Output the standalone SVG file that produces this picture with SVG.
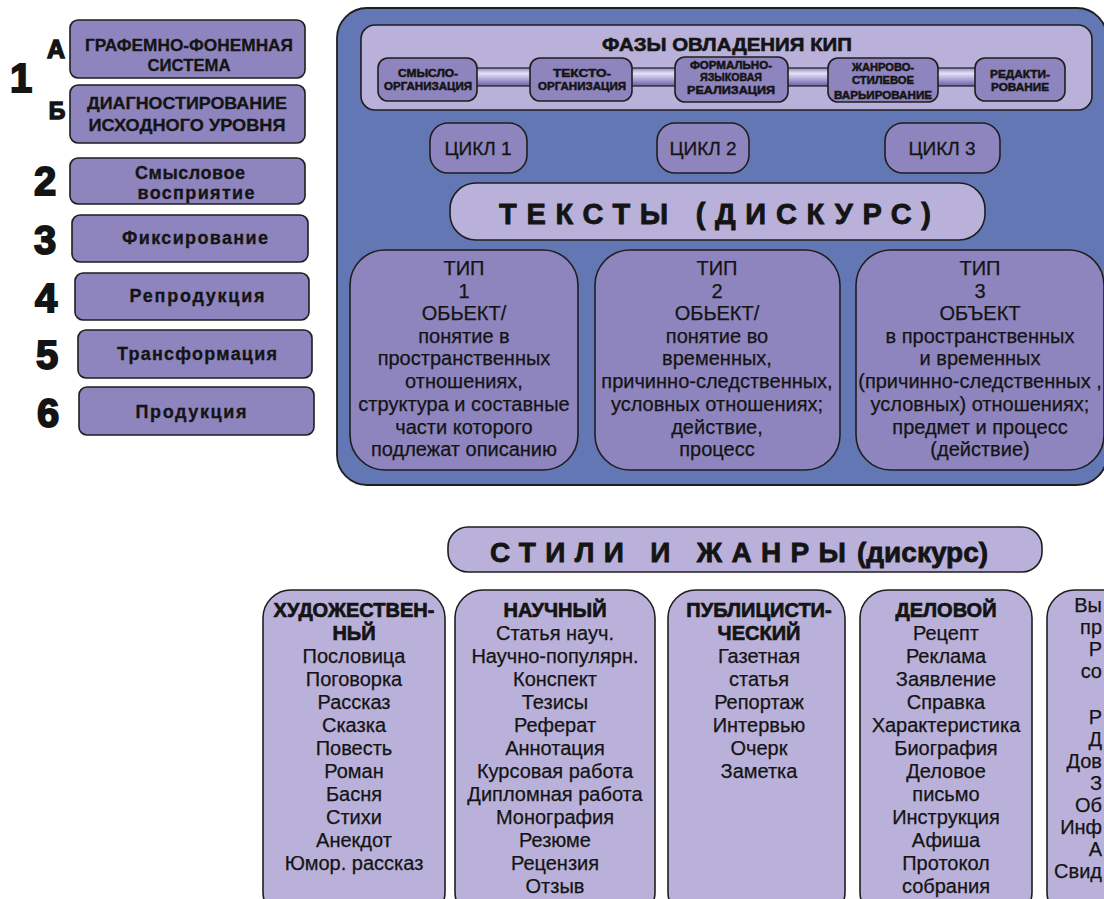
<svg xmlns="http://www.w3.org/2000/svg" width="1104" height="899" viewBox="0 0 1104 899">
  <defs>
    <linearGradient id="tube" x1="0" y1="0" x2="0" y2="1">
      <stop offset="0" stop-color="#8f86c2"/>
      <stop offset="0.3" stop-color="#e6e2f5"/>
      <stop offset="0.6" stop-color="#b2a9da"/>
      <stop offset="1" stop-color="#6a5fa6"/>
    </linearGradient>
  </defs>
  <style>
    .t{font-family:"Liberation Sans",Arial,sans-serif;fill:#141414;text-anchor:middle}
    .b{font-weight:bold}
    .e{text-anchor:end}
    .mid{fill:#8e84be;stroke:#1e1e1e;stroke-width:1.6}
    .lite{fill:#b9b1d9;stroke:#1e1e1e;stroke-width:1.6}
    .panel{fill:#6477b5;stroke:#1e1e1e;stroke-width:1.8}
    .num{font-size:40px;font-weight:bold;stroke:#141414;stroke-width:1.8}
    .side{font-size:17px;font-weight:bold;stroke:#141414;stroke-width:0.3}
    .low{font-size:18px}
    .ph{font-size:11px;font-weight:bold;stroke:#141414;stroke-width:0.5}
    .body{font-size:20px;stroke:#141414;stroke-width:0.25}
    .hd{font-weight:bold;stroke-width:0.7}
    .bar{fill:url(#tube);stroke:#1e1e1e;stroke-width:1.2}
  </style>

  <!-- left column: stages -->
  <g id="stage-numbers">
    <text class="t num" x="21" y="92" font-size="44">1</text>
    <text class="t b" x="56" y="58" font-size="25" stroke="#141414" stroke-width="1.4">А</text>
    <text class="t b" x="57" y="119" font-size="23" stroke="#141414" stroke-width="1.4">Б</text>
    <text class="t num" x="45" y="195">2</text>
    <text class="t num" x="45" y="254">3</text>
    <text class="t num" x="46" y="312">4</text>
    <text class="t num" x="47" y="369">5</text>
    <text class="t num" x="48" y="427">6</text>
  </g>
  <g id="stage-1a">
    <rect class="mid" x="70" y="20" width="235" height="58" rx="8"/>
    <text class="t side" x="189" y="51" textLength="208" lengthAdjust="spacingAndGlyphs">ГРАФЕМНО-ФОНЕМНАЯ</text>
    <text class="t side" x="189" y="71" textLength="83" lengthAdjust="spacingAndGlyphs">СИСТЕМА</text>
  </g>
  <g id="stage-1b">
    <rect class="mid" x="70" y="85" width="235" height="58" rx="8"/>
    <text class="t side" x="187" y="109" textLength="200" lengthAdjust="spacingAndGlyphs">ДИАГНОСТИРОВАНИЕ</text>
    <text class="t side" x="187" y="131" textLength="197" lengthAdjust="spacingAndGlyphs">ИСХОДНОГО УРОВНЯ</text>
  </g>
  <g id="stage-2">
    <rect class="mid" x="70" y="158" width="235" height="46" rx="8"/>
    <text class="t side low" x="190" y="179" textLength="110">Смысловое</text>
    <text class="t side low" x="196" y="199" textLength="117">восприятие</text>
  </g>
  <g id="stage-3">
    <rect class="mid" x="72" y="215" width="236" height="47" rx="8"/>
    <text class="t side low" x="195" y="244" textLength="146">Фиксирование</text>
  </g>
  <g id="stage-4">
    <rect class="mid" x="75" y="273" width="234" height="47" rx="8"/>
    <text class="t side low" x="197" y="302" textLength="135">Репродукция</text>
  </g>
  <g id="stage-5">
    <rect class="mid" x="78" y="330" width="234" height="48" rx="8"/>
    <text class="t side low" x="197" y="360" textLength="160">Трансформация</text>
  </g>
  <g id="stage-6">
    <rect class="mid" x="79" y="387" width="235" height="48" rx="8"/>
    <text class="t side low" x="191" y="418" textLength="111">Продукция</text>
  </g>

  <!-- main panel -->
  <g id="main-panel">
    <rect class="panel" x="337" y="8" width="770" height="477" rx="30"/>
  </g>
  <g id="phases">
    <rect class="lite" x="361" y="25" width="731" height="85" rx="14"/>
    <text class="t b" x="727" y="51" font-size="19" stroke="#141414" stroke-width="0.6" textLength="250" lengthAdjust="spacingAndGlyphs">ФАЗЫ ОВЛАДЕНИЯ КИП</text>
  </g>

  <g id="connectors">
    <rect class="bar" x="476" y="68" width="55" height="18"/>
    <rect class="bar" x="631" y="68" width="45" height="18"/>
    <rect class="bar" x="787" y="68" width="42" height="18"/>
    <rect class="bar" x="937" y="68" width="39" height="18"/>
  </g>

  <g id="phase-1">
    <rect class="mid" x="378" y="58" width="99" height="43" rx="10"/>
    <text class="t ph" x="428" y="77" textLength="60" lengthAdjust="spacingAndGlyphs">СМЫСЛО-</text>
    <text class="t ph" x="428" y="90" textLength="88" lengthAdjust="spacingAndGlyphs">ОРГАНИЗАЦИЯ</text>
  </g>
  <g id="phase-2">
    <rect class="mid" x="530" y="58" width="102" height="43" rx="10"/>
    <text class="t ph" x="582" y="77" textLength="58" lengthAdjust="spacingAndGlyphs">ТЕКСТО-</text>
    <text class="t ph" x="582" y="90" textLength="88" lengthAdjust="spacingAndGlyphs">ОРГАНИЗАЦИЯ</text>
  </g>
  <g id="phase-3">
    <rect class="mid" x="675" y="57" width="113" height="45" rx="10"/>
    <text class="t ph" x="731" y="69" textLength="82" lengthAdjust="spacingAndGlyphs">ФОРМАЛЬНО-</text>
    <text class="t ph" x="731" y="81" textLength="62" lengthAdjust="spacingAndGlyphs">ЯЗЫКОВАЯ</text>
    <text class="t ph" x="731" y="94" textLength="88" lengthAdjust="spacingAndGlyphs">РЕАЛИЗАЦИЯ</text>
  </g>
  <g id="phase-4">
    <rect class="mid" x="828" y="58" width="110" height="44" rx="10"/>
    <text class="t ph" x="883" y="71" textLength="62" lengthAdjust="spacingAndGlyphs">ЖАНРОВО-</text>
    <text class="t ph" x="883" y="84" textLength="62" lengthAdjust="spacingAndGlyphs">СТИЛЕВОЕ</text>
    <text class="t ph" x="883" y="99" textLength="98" lengthAdjust="spacingAndGlyphs">ВАРЬИРОВАНИЕ</text>
  </g>
  <g id="phase-5">
    <rect class="mid" x="975" y="58" width="90" height="43" rx="10"/>
    <text class="t ph" x="1020" y="78" textLength="60" lengthAdjust="spacingAndGlyphs">РЕДАКТИ-</text>
    <text class="t ph" x="1020" y="91" textLength="58" lengthAdjust="spacingAndGlyphs">РОВАНИЕ</text>
  </g>

  <g id="cycle-1">
    <rect class="mid" x="430" y="123" width="97" height="50" rx="18"/>
    <text class="t" x="478" y="155" font-size="19" stroke="#141414" stroke-width="0.3">ЦИКЛ 1</text>
  </g>
  <g id="cycle-2">
    <rect class="mid" x="657" y="123" width="92" height="50" rx="18"/>
    <text class="t" x="703" y="155" font-size="19" stroke="#141414" stroke-width="0.3">ЦИКЛ 2</text>
  </g>
  <g id="cycle-3">
    <rect class="mid" x="885" y="123" width="115" height="50" rx="18"/>
    <text class="t" x="942" y="155" font-size="19" stroke="#141414" stroke-width="0.3">ЦИКЛ 3</text>
  </g>

  <g id="texts-discourse">
    <rect class="lite" x="450" y="183" width="535" height="57" rx="26"/>
    <text class="t b" x="715" y="224" font-size="29" stroke="#141414" stroke-width="0.8" textLength="432">ТЕКСТЫ (ДИСКУРС)</text>
  </g>

  <g id="type-1">
    <rect class="mid" x="350" y="250" width="228" height="220" rx="35"/>
    <text class="t body" x="464" y="275">ТИП</text>
    <text class="t body" x="464" y="298">1</text>
    <text class="t body" x="464" y="320">ОБЬЕКТ/</text>
    <text class="t body" x="464" y="343">понятие в</text>
    <text class="t body" x="464" y="365">пространственных</text>
    <text class="t body" x="464" y="388">отношениях,</text>
    <text class="t body" x="464" y="411">структура и составные</text>
    <text class="t body" x="464" y="434">части которого</text>
    <text class="t body" x="464" y="456">подлежат описанию</text>
  </g>
  <g id="type-2">
    <rect class="mid" x="595" y="250" width="245" height="220" rx="35"/>
    <text class="t body" x="717" y="275">ТИП</text>
    <text class="t body" x="717" y="298">2</text>
    <text class="t body" x="717" y="320">ОБЬЕКТ/</text>
    <text class="t body" x="717" y="343">понятие во</text>
    <text class="t body" x="717" y="365">временных,</text>
    <text class="t body" x="717" y="388">причинно-следственных,</text>
    <text class="t body" x="717" y="411">условных отношениях;</text>
    <text class="t body" x="717" y="434">действие,</text>
    <text class="t body" x="717" y="456">процесс</text>
  </g>
  <g id="type-3">
    <rect class="mid" x="856" y="250" width="248" height="220" rx="35"/>
    <text class="t body" x="980" y="275">ТИП</text>
    <text class="t body" x="980" y="298">3</text>
    <text class="t body" x="980" y="320">ОБЪЕКТ</text>
    <text class="t body" x="980" y="343">в пространственных</text>
    <text class="t body" x="980" y="365">и временных</text>
    <text class="t body" x="980" y="388">(причинно-следственных ,</text>
    <text class="t body" x="980" y="411">условных) отношениях;</text>
    <text class="t body" x="980" y="434">предмет и процесс</text>
    <text class="t body" x="980" y="456">(действие)</text>
  </g>

  <!-- styles and genres -->
  <g id="styles-genres">
    <rect class="lite" x="448" y="527" width="594" height="45" rx="20"/>
    <text class="t b" x="490" y="562" font-size="28" stroke="#141414" stroke-width="0.8" style="text-anchor:start" textLength="356">СТИЛИ И ЖАНРЫ</text>
    <text class="t b" x="857" y="562" font-size="28" stroke="#141414" stroke-width="0.8" style="text-anchor:start">(дискурс)</text>
  </g>

  <g id="style-art">
    <rect class="lite" x="263" y="590" width="182" height="330" rx="28"/>
    <text class="t body hd" x="354" y="617">ХУДОЖЕСТВЕН-</text>
    <text class="t body hd" x="354" y="640">НЬЙ</text>
    <text class="t body" x="354" y="663">Пословица</text>
    <text class="t body" x="354" y="686">Поговорка</text>
    <text class="t body" x="354" y="709">Рассказ</text>
    <text class="t body" x="354" y="732">Сказка</text>
    <text class="t body" x="354" y="755">Повесть</text>
    <text class="t body" x="354" y="778">Роман</text>
    <text class="t body" x="354" y="801">Басня</text>
    <text class="t body" x="354" y="824">Стихи</text>
    <text class="t body" x="354" y="847">Анекдот</text>
    <text class="t body" x="354" y="870">Юмор. рассказ</text>
  </g>
  <g id="style-science">
    <rect class="lite" x="455" y="590" width="200" height="330" rx="28"/>
    <text class="t body hd" x="555" y="617">НАУЧНЫЙ</text>
    <text class="t body" x="555" y="640">Статья науч.</text>
    <text class="t body" x="555" y="663">Научно-популярн.</text>
    <text class="t body" x="555" y="686">Конспект</text>
    <text class="t body" x="555" y="709">Тезисы</text>
    <text class="t body" x="555" y="732">Реферат</text>
    <text class="t body" x="555" y="755">Аннотация</text>
    <text class="t body" x="555" y="778">Курсовая работа</text>
    <text class="t body" x="555" y="801">Дипломная работа</text>
    <text class="t body" x="555" y="824">Монография</text>
    <text class="t body" x="555" y="847">Резюме</text>
    <text class="t body" x="555" y="870">Рецензия</text>
    <text class="t body" x="555" y="893">Отзыв</text>
  </g>
  <g id="style-journalism">
    <rect class="lite" x="668" y="590" width="177" height="330" rx="28"/>
    <text class="t body hd" x="759" y="617">ПУБЛИЦИСТИ-</text>
    <text class="t body hd" x="759" y="640">ЧЕСКИЙ</text>
    <text class="t body" x="759" y="663">Газетная</text>
    <text class="t body" x="759" y="686">статья</text>
    <text class="t body" x="759" y="709">Репортаж</text>
    <text class="t body" x="759" y="732">Интервью</text>
    <text class="t body" x="759" y="755">Очерк</text>
    <text class="t body" x="759" y="778">Заметка</text>
  </g>
  <g id="style-business">
    <rect class="lite" x="860" y="590" width="172" height="330" rx="28"/>
    <text class="t body hd" x="946" y="617">ДЕЛОВОЙ</text>
    <text class="t body" x="946" y="640">Рецепт</text>
    <text class="t body" x="946" y="663">Реклама</text>
    <text class="t body" x="946" y="686">Заявление</text>
    <text class="t body" x="946" y="709">Справка</text>
    <text class="t body" x="946" y="732">Характеристика</text>
    <text class="t body" x="946" y="755">Биография</text>
    <text class="t body" x="946" y="778">Деловое</text>
    <text class="t body" x="946" y="801">письмо</text>
    <text class="t body" x="946" y="824">Инструкция</text>
    <text class="t body" x="946" y="847">Афиша</text>
    <text class="t body" x="946" y="870">Протокол</text>
    <text class="t body" x="946" y="893">собрания</text>
  </g>
  <g id="style-official">
    <rect class="lite" x="1047" y="590" width="190" height="330" rx="28"/>
    <text class="t body e" x="1102" y="612">Вы</text>
    <text class="t body e" x="1102" y="634">пр</text>
    <text class="t body e" x="1102" y="656">Р</text>
    <text class="t body e" x="1102" y="678">со</text>
    <text class="t body e" x="1102" y="724">Р</text>
    <text class="t body e" x="1102" y="746">Д</text>
    <text class="t body e" x="1102" y="768">Дов</text>
    <text class="t body e" x="1102" y="790">З</text>
    <text class="t body e" x="1102" y="812">Об</text>
    <text class="t body e" x="1102" y="834">Инф</text>
    <text class="t body e" x="1102" y="856">А</text>
    <text class="t body e" x="1102" y="878">Свид</text>
  </g>
</svg>
